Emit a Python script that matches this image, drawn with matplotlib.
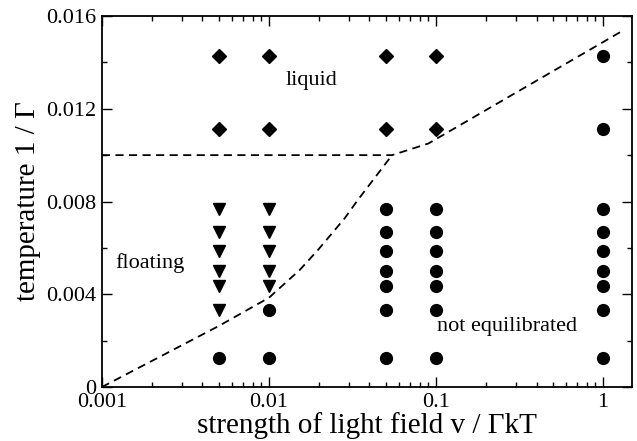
import matplotlib
matplotlib.use("Agg")
import matplotlib.pyplot as plt
from matplotlib.ticker import MultipleLocator, LogLocator, FixedLocator, NullFormatter

plt.rcParams['font.family'] = ['Liberation Serif', 'DejaVu Serif']

# temperatures 1/Gamma
liquid_x = [0.005, 0.005, 0.01, 0.01, 0.05, 0.05, 0.1, 0.1]
liquid_y = [1/70, 1/90, 1/70, 1/90, 1/70, 1/90, 1/70, 1/90]

floating_x = [0.005] * 6 + [0.01] * 5
floating_y = [1/130, 1/150, 1/170, 1/200, 1/230, 1/300,
              1/130, 1/150, 1/170, 1/200, 1/230]

noneq_x = ([0.005] + [0.01] * 2 + [0.05] * 7 + [0.1] * 7 + [1] * 9)
noneq_y = ([1/800] + [1/300, 1/800]
           + [1/130, 1/150, 1/170, 1/200, 1/230, 1/300, 1/800]
           + [1/130, 1/150, 1/170, 1/200, 1/230, 1/300, 1/800]
           + [1/70, 1/90, 1/130, 1/150, 1/170, 1/200, 1/230, 1/300, 1/800])

# phase boundaries
upper_x = [0.001, 0.0546, 0.09, 1.3]
upper_y = [0.0100, 0.0100, 0.0105, 0.01535]
lower_x = [0.001, 0.005, 0.01, 0.0153, 0.0196, 0.0285, 0.034, 0.0546]
lower_y = [0.0, 0.00263, 0.00385, 0.00505, 0.0059, 0.00729, 0.00806, 0.0100]

fig = plt.figure(figsize=(6.37, 4.41), dpi=100)
ax = fig.add_axes([0.160, 0.1224, 0.832, 0.8413])

ax.plot(upper_x, upper_y, color='black', lw=1.3, ls=(0, (4.5, 3)))
ax.plot(lower_x, lower_y, color='black', lw=1.3, ls=(0, (4.5, 3)))

ax.plot(liquid_x, liquid_y, 'D', color='black', ms=7, ls='none')
ax.plot(floating_x, floating_y, 'v', color='black', ms=8, ls='none')
ax.plot(noneq_x, noneq_y, 'o', color='black', ms=8.5, ls='none')

ax.text(0.0181, 0.01324, 'liquid', fontsize=16, ha='center', va='center')
ax.text(0.00194, 0.00535, 'floating', fontsize=16, ha='center', va='center')
ax.text(0.266, 0.00259, 'not equilibrated', fontsize=16, ha='center', va='center')

ax.set_xscale('log')
ax.set_xlim(0.001, 1.49)
ax.set_ylim(0, 0.016)

ax.xaxis.set_major_locator(FixedLocator([0.001, 0.01, 0.1, 1]))
ax.set_xticklabels(['0.001', '0.01', '0.1', '1'])
ax.xaxis.set_minor_locator(LogLocator(base=10, subs=range(2, 10)))
ax.xaxis.set_minor_formatter(NullFormatter())
ax.set_yticks([0, 0.004, 0.008, 0.012, 0.016])
ax.set_yticklabels(['0', '0.004', '0.008', '0.012', '0.016'])
ax.yaxis.set_minor_locator(MultipleLocator(0.002))

ax.tick_params(which='both', direction='in', top=True, right=True,
               labelsize=16, width=1.0)
ax.tick_params(which='major', length=7, pad=4)
ax.tick_params(which='minor', length=3.5)
for s in ax.spines.values():
    s.set_linewidth(1.3)

ax.set_xlabel('strength of light field v / \u0393kT', fontsize=21, labelpad=0)
ax.set_ylabel('temperature 1 / \u0393', fontsize=21, labelpad=4)

fig.savefig('out.png', dpi=100)
